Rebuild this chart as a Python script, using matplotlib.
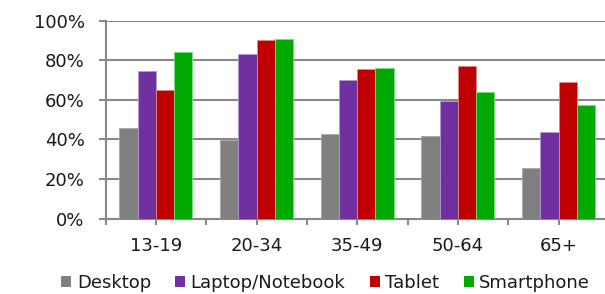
import numpy as np
import matplotlib.pyplot as plt
from matplotlib.patches import Patch

categories = ["13-19", "20-34", "35-49", "50-64", "65+"]
series = ["Desktop", "Laptop/Notebook", "Tablet", "Smartphone"]
desktop = [45.5, 39.6, 42.5, 41.8, 25.3]
laptop = [74.5, 83.1, 70.0, 59.5, 43.7]
tablet = [65.0, 89.9, 75.4, 77.2, 69.0]
smartphone = [84.1, 90.9, 75.9, 64.1, 57.5]
colors = ["#808080", "#7030A0", "#C00000", "#00AA00"]
edges = ["#a8a8a8", "#b39ad0", "#e08a8a", "#7fd87f"]

plt.rcParams['font.family'] = ['DejaVu Sans']

fig = plt.figure(figsize=(6.05, 2.94), dpi=100)
# plot area runs slightly past the right edge of the picture
ax = fig.add_axes([105.5 / 605, 75.5 / 294, 503.5 / 605, 198 / 294])

x = np.arange(len(categories))
w = 0.181
values = [desktop, laptop, tablet, smartphone]
for i, (vals, c, e) in enumerate(zip(values, colors, edges)):
    ax.bar(x + (i - 1.5) * w, np.array(vals) / 100, w, color=c,
           edgecolor=e, linewidth=0.6, zorder=3)

grid_c = "#888888"
ax.set_ylim(0, 1)
ax.set_xlim(-0.5, 4.5)
ax.set_yticks(np.arange(0, 1.01, 0.2))
ax.set_yticklabels([f"{int(round(v * 100))}%" for v in np.arange(0, 1.01, 0.2)])
ax.yaxis.grid(True, color=grid_c, linewidth=1.5, zorder=0)
ax.set_axisbelow(True)

# labels + ticks at group centres, extra ticks at group boundaries
ax.set_xticks(x)
ax.set_xticklabels(categories)
ax.set_xticks(np.arange(-0.5, len(categories), 1), minor=True)
ax.tick_params(axis='x', which='both', length=4.5, width=1.5, color=grid_c)
ax.tick_params(axis='x', which='major', pad=8.5, labelsize=13, labelcolor="#1a1a1a")
ax.tick_params(axis='y', length=5, width=1.5, color=grid_c, pad=10, labelsize=13, labelcolor="#1a1a1a")

for s in ["top", "right"]:
    ax.spines[s].set_visible(False)
for s in ["left", "bottom"]:
    ax.spines[s].set_color(grid_c)
    ax.spines[s].set_linewidth(1.5)

handles = [Patch(facecolor=c, edgecolor='none') for c in colors]
fig.legend(handles, series, loc='center', bbox_to_anchor=(325.6 / 605, 11 / 294),
           ncol=4, frameon=False, fontsize=13, handlelength=0.55, handleheight=0.55,
           handletextpad=0.3, columnspacing=1.35, borderpad=0, labelcolor="#1a1a1a")

fig.savefig("out.png", dpi=100)
